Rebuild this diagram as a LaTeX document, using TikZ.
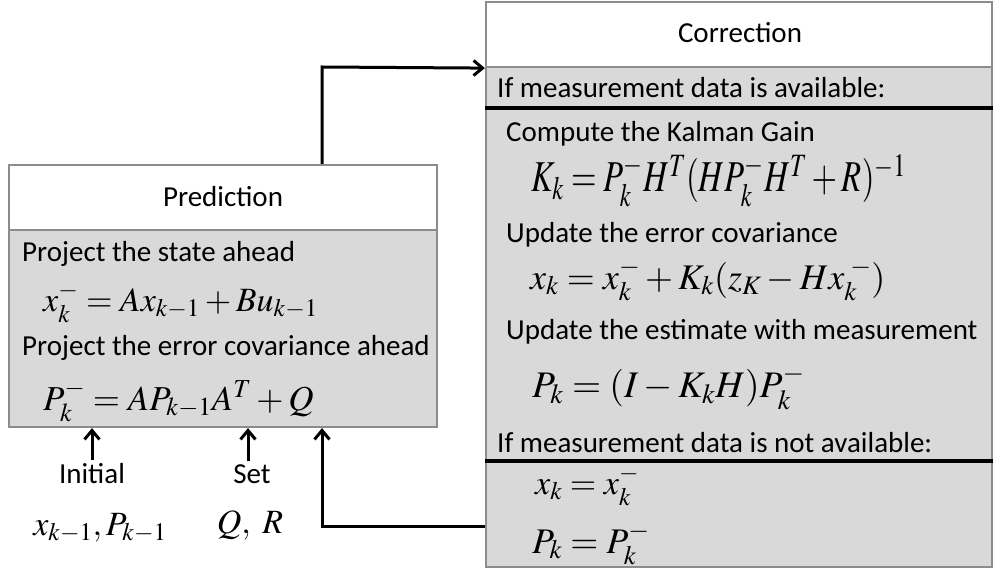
\documentclass[tikz,border=0pt]{standalone}
\usepackage{mathptmx}
\usepackage[no-math]{fontspec}
\setmainfont{Carlito}
\usetikzlibrary{arrows.meta}

\definecolor{panelfill}{HTML}{D9D9D9}
\definecolor{panelline}{HTML}{8C8C8C}

\tikzset{
  titlebox/.style={draw=panelline, line width=2.2pt, fill=white, inner sep=0pt, rectangle},
  bodybox/.style={draw=panelline, line width=2.2pt, fill=panelfill, inner sep=0pt, rectangle},
  rule/.style={line width=3.4pt, black},
  lbl/.style={anchor=base west, inner sep=0pt, font=\fontsize{29}{33}\selectfont},
  clbl/.style={anchor=base, inner sep=0pt, font=\fontsize{29}{33}\selectfont},
  eqn/.style={anchor=base west, inner sep=0pt},
  arr/.style={line width=3pt, -{Straight Barb[length=9pt,width=15pt,line width=3pt]}},
}

\begin{document}
\begin{tikzpicture}[x=1pt,y=-1pt]
\useasboundingbox (0,0) rectangle (993,572);

% Prediction panel
\node[titlebox, minimum width=428pt, minimum height=65pt] (predT) at (223,197.5) {};
\node[bodybox, minimum width=428pt, minimum height=197pt] (predB) at (223,328.5) {};
\node[clbl] (predName) at (223,207) {Prediction};
\node[lbl] (p1) at (22,261) {Project the state ahead};
\node[eqn] (e1) at (43,311) {\fontsize{34}{38}\selectfont$x_k^- = Ax_{k-1} + Bu_{k-1}$};
\node[lbl] (p2) at (22,355) {Project the error covariance ahead};
\node[eqn] (e2) at (43,410) {\fontsize{35}{39}\selectfont$P_k^- = AP_{k-1}A^T + Q$};

% Correction panel
\node[titlebox, minimum width=506pt, minimum height=65pt] (corrT) at (739,34.5) {};
\node[bodybox, minimum width=506pt, minimum height=500pt] (corrB) at (739,317) {};
\node[clbl] (corrName) at (740,43) {Correction};
\node[lbl] (c0) at (497,98) {If measurement data is available:};
\draw[rule] (corrB.west |- 0,108) -- (corrB.east |- 0,108);
\node[lbl] (c1) at (506,142) {Compute the Kalman Gain};
\node[eqn] (ce1) at (531,192) {\scalebox{0.82}[1.1]{\fontsize{40}{44}\selectfont$K_k = P_k^- H^T (H P_k^- H^T + R)^{-1}$}};
\node[lbl] (c2) at (506,242) {Update the error covariance};
\node[eqn] (ce2) at (530,289) {\fontsize{36}{40}\selectfont$x_k = x_k^- + K_k(z_K - Hx_k^{\;-})$};
\node[lbl] (c3) at (506,339) {Update the estimate with measurement};
\node[eqn] (ce3) at (532,397) {\fontsize{37.5}{42}\selectfont$P_k = (I - K_k H) P_k^-$};
\node[lbl] (c4) at (497,452) {If measurement data is not available:};
\draw[rule] (corrB.west |- 0,461) -- (corrB.east |- 0,461);
\node[eqn] (ce4) at (535,494) {\fontsize{34}{38}\selectfont$x_k = x_k^-$};
\node[eqn] (ce5) at (532,553) {\fontsize{36}{40}\selectfont$P_k = P_k^-$};

% Initial values and tuning parameters
\node[clbl] (ini) at (92,483) {Initial};
\node[clbl] (set) at (252,483) {Set};
\node[anchor=base, inner sep=0pt] (iniv) at (100,535) {\fontsize{34}{38}\selectfont$x_{k-1}, P_{k-1}$};
\node[anchor=base, inner sep=0pt] (setv) at (250,533) {\fontsize{34}{38}\selectfont$Q,\ R$};

% Connectors
\coordinate (up) at (322,67);
\coordinate (fb) at (322,526);
\coordinate (setx) at (248,0);
\draw[arr] (predT.north -| up) -- (up) -- (corrT.south west);
\draw[arr] (corrB.west |- fb) -- (fb) -- (predB.south -| fb);
\draw[arr] ([yshift=3pt]ini.north) -- (predB.south -| ini.north);
\draw[arr] ([yshift=3pt]set.north -| setx) -- (predB.south -| setx);
\end{tikzpicture}
\end{document}
